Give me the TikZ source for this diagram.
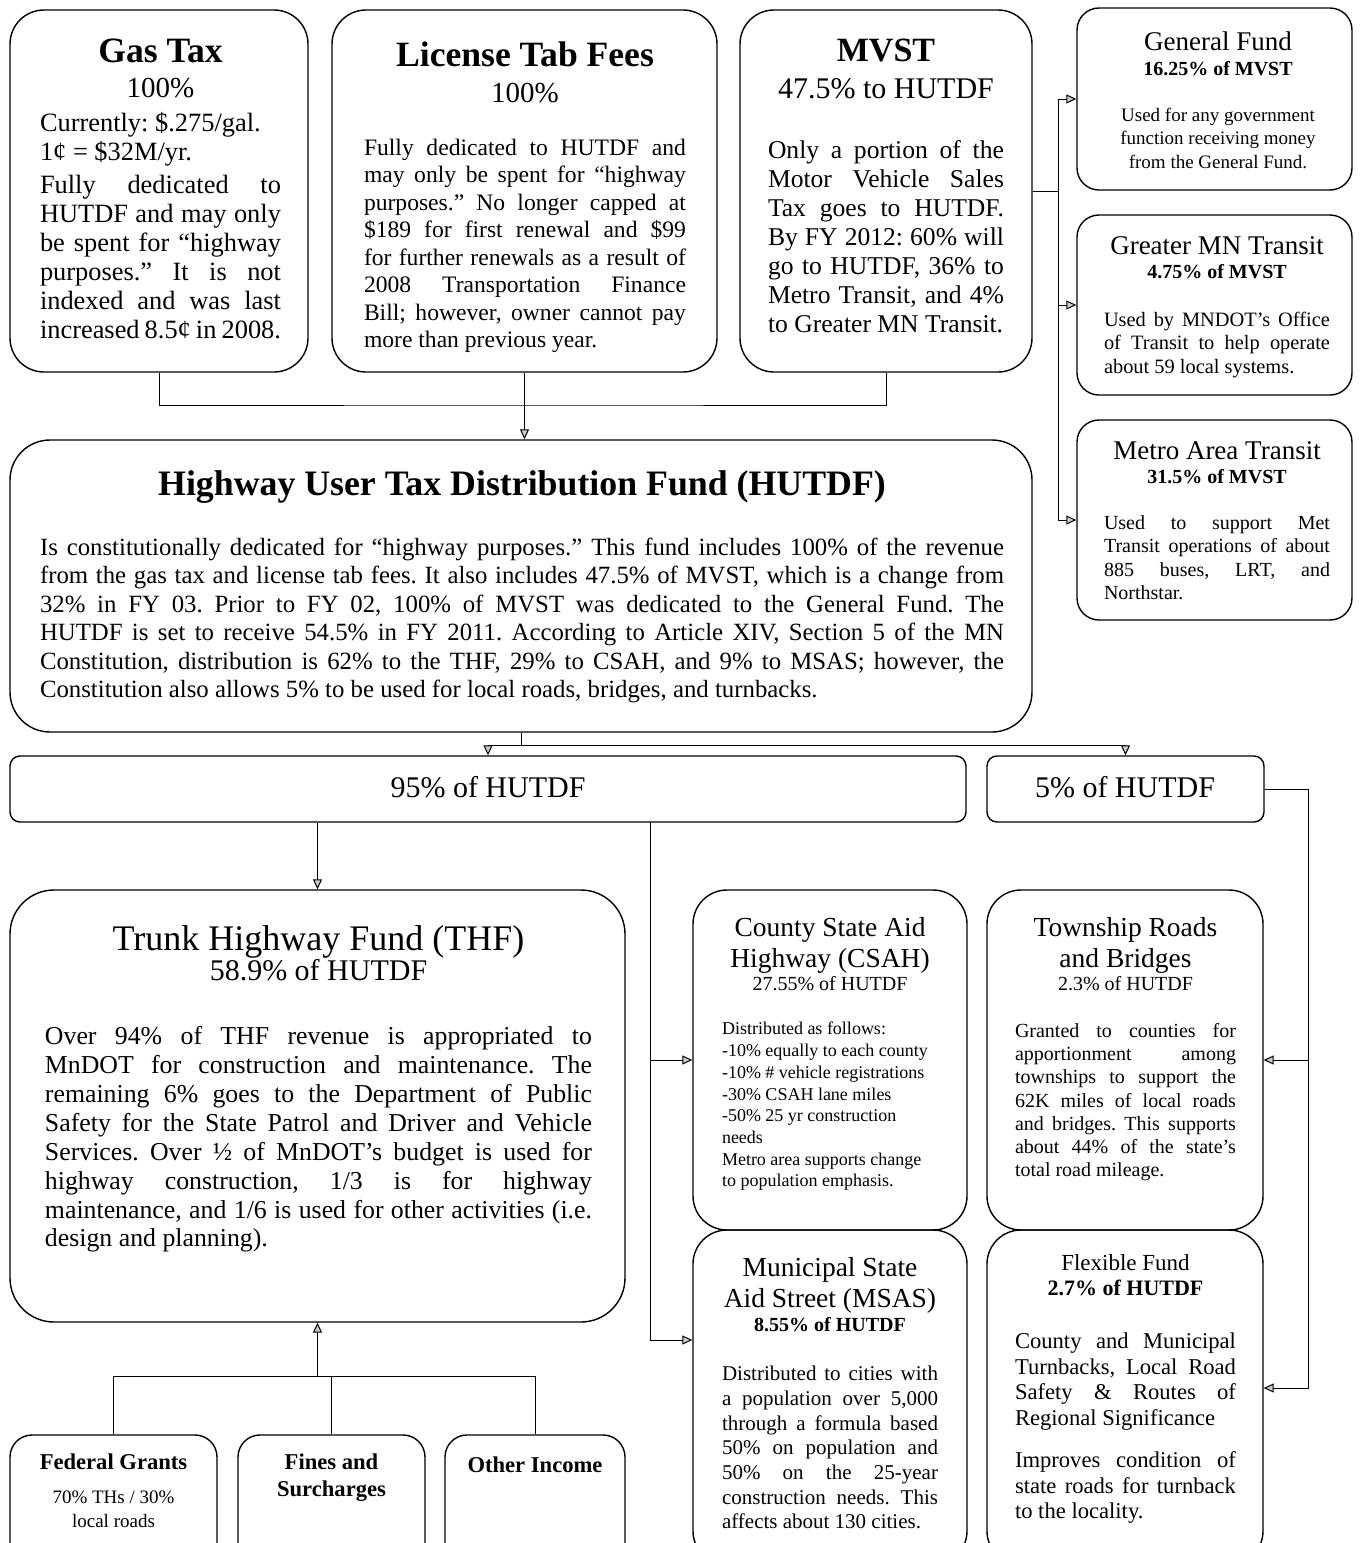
\documentclass[tikz,border=0pt]{standalone}
\usepackage{fontspec}
\setmainfont{Liberation Serif}
\usetikzlibrary{fit,arrows.meta}
\frenchspacing
\hyphenpenalty=10000
\exhyphenpenalty=10000

\begin{document}
\begin{tikzpicture}[x=0.5pt,y=-0.5pt]
    % `fund' draws the large boxes, `minor' the small ones on the right
    % and at the foot, `share' the two flat boxes of the 95/5 split.
    % `txt' holds the text set inside a box, `flow' the arrows.
    \tikzstyle{fund} = [draw,line width=0.7pt,rounded corners=17pt,inner sep=0pt]
    \tikzstyle{minor} = [draw,line width=0.7pt,rounded corners=11pt,inner sep=0pt]
    \tikzstyle{share} = [draw,line width=0.7pt,rounded corners=5pt,inner sep=0pt]
    \tikzstyle{txt} = [inner sep=0pt,anchor=base,align=justify]
    \tikzstyle{link} = [line width=0.5pt]
    \tikzstyle{flow} = [link,-{Triangle[length=5pt,width=4.5pt,fill=gray!40]}]
    %
    \useasboundingbox (0,0) rectangle (1362,1543);

    % Revenue sources.
    \node[fund, fit={(10,10) (308,372)}] (gas) {};
    \node[fund, fit={(332,10) (717,372)}] (lic) {};
    \node[fund, fit={(740,10) (1032,372)}] (mvst) {};
    \node[txt, text width=120.5pt] (gas-txt) at (160.5,62) {%
      {\centering\fontsize{17.8}{20}\selectfont\bfseries Gas Tax\par}
      {\centering\fontsize{14.5}{17.5}\selectfont 100\%\par}
      \vspace{2.5pt}
      {\fontsize{13.2}{14.5}\selectfont Currently: \$.275/gal.\\1¢ = \$32M/yr.\par}
      \vspace{2pt}
      {\fontsize{13.2}{14.5}\selectfont Fully dedicated to\linebreak HUTDF and may only\linebreak
       be spent for “highway\linebreak purposes.” It is not\linebreak indexed and was last\linebreak
       increased 8.5¢ in 2008.\par}};
    \node[txt, text width=161pt] (lic-txt) at (525,66) {%
      {\centering\fontsize{17.8}{20}\selectfont\bfseries License Tab Fees\par}
      {\centering\fontsize{14.5}{18}\selectfont 100\%\par}
      \vspace{12.8pt}
      {\fontsize{11.8}{13.75}\selectfont Fully dedicated to HUTDF and\linebreak may only be spent for “highway\linebreak
       purposes.” No longer capped at\linebreak \$189 for first renewal and \$99\linebreak
       for further renewals as a result of\linebreak 2008 Transportation Finance\linebreak
       Bill; however, owner cannot pay\linebreak more than previous year.\par}};
    \node[txt, text width=118pt] (mvst-txt) at (886,61) {%
      {\centering\fontsize{17}{20}\selectfont\bfseries MVST\par}
      {\centering\fontsize{15}{18.5}\selectfont 47.5\% to HUTDF\par}
      \vspace{15.7pt}
      {\fontsize{12.8}{14.5}\selectfont Only a portion of the\linebreak Motor Vehicle Sales\linebreak
       Tax goes to HUTDF.\linebreak By FY 2012: 60\% will\linebreak go to HUTDF, 36\% to\linebreak
       Metro Transit, and 4\%\linebreak to Greater MN Transit.\par}};

    % Where the rest of MVST goes.
    \node[minor, fit={(1077,8) (1352,190)}] (genf) {};
    \node[minor, fit={(1077,215) (1352,395)}] (gmn) {};
    \node[minor, fit={(1077,420) (1352,620)}] (metro) {};
    \node[txt, text width=112pt] (genf-txt) at (1218,50) {%
      {\centering\fontsize{13.5}{16}\selectfont General Fund\par}
      {\centering\fontsize{10}{12.75}\selectfont\bfseries 16.25\% of MVST\par}
      \vspace{11pt}
      {\centering\fontsize{9.5}{11.75}\selectfont Used for any government\\function receiving money\\
       from the General Fund.\par}};
    \node[txt, text width=113pt] (gmn-txt) at (1217,254) {%
      {\centering\fontsize{13.5}{16}\selectfont Greater MN Transit\par}
      {\centering\fontsize{10}{12.25}\selectfont\bfseries 4.75\% of MVST\par}
      \vspace{12.2pt}
      {\fontsize{10.2}{11.75}\selectfont Used by MNDOT’s Office\linebreak of Transit to help operate\linebreak
       about 59 local systems.\par}};
    \node[txt, text width=113pt] (metro-txt) at (1217,459) {%
      {\centering\fontsize{13.5}{16}\selectfont Metro Area Transit\par}
      {\centering\fontsize{10}{12.25}\selectfont\bfseries 31.5\% of MVST\par}
      \vspace{11.3pt}
      {\fontsize{10}{11.7}\selectfont Used to support Met\linebreak Transit operations of about\linebreak
       885 buses, LRT, and\linebreak Northstar.\par}};

    % The fund itself and its split.
    \node[fund, rounded corners=20pt, fit={(10,440) (1032,732)}] (hut) {};
    \node[txt, text width=482pt] (hut-txt) at (522,495) {%
      {\centering\fontsize{17.9}{20}\selectfont\bfseries Highway User Tax Distribution Fund (HUTDF)\par}
      \vspace{16pt}
      {\fontsize{12.4}{14.2}\selectfont Is constitutionally dedicated for “highway purposes.” This fund
       includes 100\% of the revenue\linebreak from the gas tax and license tab fees. It also includes
       47.5\% of MVST, which is a change from\linebreak 32\% in FY 03. Prior to FY 02, 100\% of MVST was
       dedicated to the General Fund. The\linebreak HUTDF is set to receive 54.5\% in FY 2011. According
       to Article XIV, Section 5 of the MN\linebreak Constitution, distribution is 62\% to the THF, 29\%
       to CSAH, and 9\% to MSAS; however, the\linebreak Constitution also allows 5\% to be used for local
       roads, bridges, and turnbacks.\par}};
    \node[share, fit={(10,756) (966,822)}] (p95) {};
    \node[share, fit={(987,756) (1264,822)}] (p5) {};
    \node[font=\fontsize{15}{18}\selectfont, inner sep=0pt] (p95-txt) at (488,787) {95\% of HUTDF};
    \node[font=\fontsize{15}{18}\selectfont, inner sep=0pt] (p5-txt) at (1125,787) {5\% of HUTDF};

    % Receiving funds.
    \node[fund, rounded corners=22pt, fit={(10,890) (625,1322)}] (thf) {};
    \node[fund, fit={(693,890) (967,1230)}] (csah) {};
    \node[fund, fit={(987,890) (1263,1230)}] (town) {};
    \node[fund, fit={(693,1230) (967,1565)}] (msas) {};
    \node[fund, fit={(987,1230) (1263,1565)}] (flex) {};
    \node[txt, text width=273.5pt] (thf-txt) at (318.5,950) {%
      {\centering\fontsize{18}{20}\selectfont Trunk Highway Fund (THF)\par}
      {\centering\fontsize{15}{15}\selectfont 58.9\% of HUTDF\par}
      \vspace{18pt}
      {\fontsize{12.9}{14.43}\selectfont Over 94\% of THF revenue is appropriated to\linebreak
       MnDOT for construction and maintenance. The\linebreak remaining 6\% goes to the Department of
       Public\linebreak Safety for the State Patrol and Driver and Vehicle\linebreak Services. Over ½ of
       MnDOT’s budget is used for\linebreak highway construction, 1/3 is for highway\linebreak
       maintenance, and 1/6 is used for other activities (i.e.\linebreak design and planning).\par}};
    \node[txt, text width=108pt] (csah-txt) at (830,936) {%
      {\centering\fontsize{13.75}{15.5}\selectfont County State Aid\\Highway (CSAH)\par}
      {\centering\fontsize{10}{11.5}\selectfont 27.55\% of HUTDF\par}
      \vspace{11.6pt}
      {\fontsize{9}{10.86}\selectfont Distributed as follows:\\-10\% equally to each county\\
       -10\% \# vehicle registrations\\-30\% CSAH lane miles\\-50\% 25 yr construction\\needs\\
       Metro area supports change\\to population emphasis.\par}};
    \node[txt, text width=110.5pt] (town-txt) at (1125.5,936) {%
      {\centering\fontsize{13.75}{15.5}\selectfont Township Roads\\and Bridges\par}
      {\centering\fontsize{10}{11.5}\selectfont 2.3\% of HUTDF\par}
      \vspace{12.2pt}
      {\fontsize{10}{11.58}\selectfont Granted to counties for\linebreak apportionment among\linebreak
       townships to support the\linebreak 62K miles of local roads\linebreak and bridges. This
       supports\linebreak about 44\% of the state’s\linebreak total road mileage.\par}};
    \node[txt, text width=108pt] (msas-txt) at (830,1276) {%
      {\centering\fontsize{13.75}{15.5}\selectfont Municipal State\\Aid Street (MSAS)\par}
      {\centering\fontsize{10}{12.25}\selectfont\bfseries 8.55\% of HUTDF\par}
      \vspace{12.4pt}
      {\fontsize{10.5}{12.33}\selectfont Distributed to cities with\linebreak a population over
       5,000\linebreak through a formula based\linebreak 50\% on population and\linebreak 50\% on the
       25-year\linebreak construction needs. This\linebreak affects about 130 cities.\par}};
    \node[txt, text width=110.5pt] (flex-txt) at (1125.5,1270) {%
      {\centering\fontsize{11.5}{14}\selectfont Flexible Fund\par}
      {\centering\fontsize{11}{12.75}\selectfont\bfseries 2.7\% of HUTDF\par}
      \vspace{13.7pt}
      {\fontsize{11.3}{12.83}\selectfont County and Municipal\linebreak Turnbacks, Local Road\linebreak
       Safety \& Routes of\linebreak Regional Significance\par}
      \vspace{8.2pt}
      {\fontsize{11.3}{12.83}\selectfont Improves condition of\linebreak state roads for
       turnback\linebreak to the locality.\par}};

    % Other income of the THF.
    \node[minor, fit={(10,1435) (217,1565)}] (fed) {};
    \node[minor, fit={(238,1435) (425,1565)}] (fin) {};
    \node[minor, fit={(445,1435) (625,1565)}] (oth) {};
    \node[txt, text width=90pt] (fed-txt) at (113.5,1469) {%
      {\centering\fontsize{11.3}{14}\selectfont\bfseries Federal Grants\par}
      \vspace{5pt}
      {\centering\fontsize{9.5}{12}\selectfont 70\% THs / 30\%\\local roads\par}};
    \node[txt, text width=90pt] (fin-txt) at (331.5,1469) {%
      {\centering\fontsize{11.3}{13.5}\selectfont\bfseries Fines and\\Surcharges\par}};
    \node[txt, text width=85pt] (oth-txt) at (535,1472) {%
      {\centering\fontsize{11.3}{13.5}\selectfont\bfseries Other Income\par}};

    % Connectors.
    \coordinate (srcbus) at (524,405);
    \coordinate (mvstbus) at (1058,191);
    \coordinate (hutbus) at (521,745);
    \coordinate (p95bus) at (650,822);
    \coordinate (p5bus) at (1308,789);
    \coordinate (thfbus) at (319,1376);
    \draw[link] (gas.south) |- (srcbus) -| (mvst.south);
    \draw[flow] (lic.south) -- (lic.south |- hut.north);
    \draw[link] (mvst.east) -- (mvstbus);
    \draw[flow] (mvstbus) |- (genf.west);
    \draw[flow] (mvstbus) |- (gmn.west);
    \draw[flow] (mvstbus) |- (metro.west);
    \draw[link] (hut.south) -- (hutbus);
    \draw[flow] (hutbus) -| (p95.north);
    \draw[flow] (hutbus) -| (p5.north);
    \draw[flow] (thf.north |- p95.south) -- (thf.north);
    \draw[flow] (p95bus) |- (csah.west);
    \draw[flow] (p95bus) |- ([yshift=28.75pt]msas.west);
    \draw[link] (p5.east) -- (p5bus);
    \draw[flow] (p5bus) |- (town.east);
    \draw[flow] (p5bus) |- ([yshift=4.75pt]flex.east);
    \draw[link] (fed.north) |- (thfbus) -| (oth.north);
    \draw[link] (fin.north) -- (fin.north |- thfbus);
    \draw[flow] (thf.south |- thfbus) -- (thf.south);
\end{tikzpicture}
\end{document}
